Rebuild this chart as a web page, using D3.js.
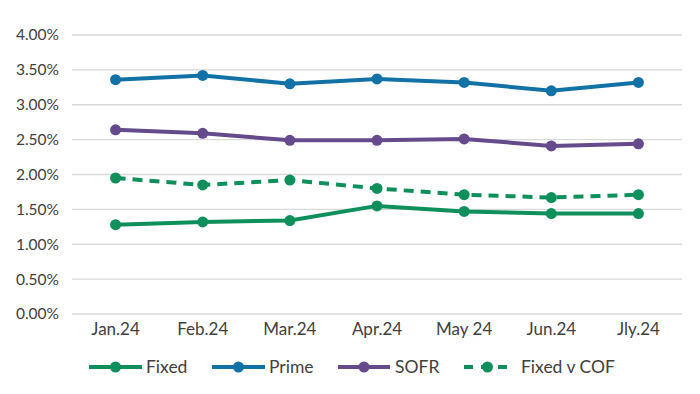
<!DOCTYPE html>
<html><head><meta charset="utf-8">
<script src="https://cdn.jsdelivr.net/npm/d3@7/dist/d3.min.js"></script>
<style>body{margin:0;background:#fff;} svg{display:block;font-family:Lato,"Noto Sans",sans-serif;}</style>
</head><body><svg id="c" width="700" height="394"></svg>
<script>
const categories = ["Jan.24","Feb.24","Mar.24","Apr.24","May 24","Jun.24","Jly.24"];
const fixed    = [1.28,1.32,1.34,1.55,1.47,1.44,1.44];
const prime    = [3.36,3.42,3.30,3.37,3.32,3.20,3.32];
const sofr     = [2.64,2.59,2.49,2.49,2.51,2.41,2.44];
const fixedCOF = [1.95,1.85,1.92,1.80,1.71,1.67,1.71];
const yTicks = [0,0.5,1,1.5,2,2.5,3,3.5,4];
const seriesNames = ["Fixed","Prime","SOFR","Fixed v COF"];

const series = [
  {name:seriesNames[0], values:fixed, color:"#0f8f5b", dash:null},
  {name:seriesNames[1], values:prime, color:"#1272a5", dash:null},
  {name:seriesNames[2], values:sofr, color:"#654a8c", dash:null},
  {name:seriesNames[3], values:fixedCOF, color:"#0f8f5b", dash:"10,7"}
];

const svg = d3.select("#c");
const x = d3.scaleBand().domain(categories).range([72,682]);
const y = d3.scaleLinear().domain([0,4]).range([314,35]);

const grid = svg.append("g");
grid.selectAll("line").data(yTicks).join("line")
  .attr("x1",72).attr("x2",682)
  .attr("y1",d=>y(d)).attr("y2",d=>y(d))
  .attr("stroke","#d9d9d9").attr("stroke-width",1.3);

const yAxis = svg.append("g").attr("transform","translate(62,0)")
  .call(d3.axisLeft(y).tickValues(yTicks).tickFormat(d=>d.toFixed(2)+"%").tickSize(0));
yAxis.select(".domain").remove();
yAxis.selectAll("text").attr("font-size",15.5).attr("fill","#404040")
  .attr("font-family","Lato,'Noto Sans',sans-serif");

const xAxis = svg.append("g").attr("transform","translate(0,320)")
  .call(d3.axisBottom(x).tickSize(0));
xAxis.select(".domain").remove();
xAxis.selectAll("text").attr("font-size",17).attr("fill","#404040")
  .attr("font-family","Lato,'Noto Sans',sans-serif");

const cx = d => x(d) + x.bandwidth()/2;
const line = d3.line().x((d,i)=>cx(categories[i])).y(d=>y(d));

const order = [series[3], series[0], series[2], series[1]];
order.forEach(s=>{
  const g = svg.append("g");
  g.append("path").attr("d",line(s.values)).attr("fill","none")
    .attr("stroke",s.color).attr("stroke-width",4)
    .attr("stroke-dasharray",s.dash);
  g.selectAll("circle").data(s.values).join("circle")
    .attr("cx",(d,i)=>cx(categories[i])).attr("cy",d=>y(d))
    .attr("r",5.5).attr("fill",s.color);
});

// legend
const legX = [89,212,338,464];
const legW = [53,53,52,47];
const legText = [146,269,395,521];
const legY = 367;
series.forEach((s,i)=>{
  const g = svg.append("g");
  g.append("line").attr("x1",legX[i]).attr("x2",legX[i]+legW[i])
    .attr("y1",legY).attr("y2",legY).attr("stroke",s.color).attr("stroke-width",4)
    .attr("stroke-dasharray", s.dash ? "9,8" : null);
  g.append("circle").attr("cx",legX[i]+legW[i]/2).attr("cy",legY).attr("r",5.5).attr("fill",s.color);
  g.append("text").attr("x",legText[i]).attr("y",legY).attr("dy","0.35em")
    .attr("font-size",17.5).attr("fill","#404040").text(s.name);
});
</script></body></html>
